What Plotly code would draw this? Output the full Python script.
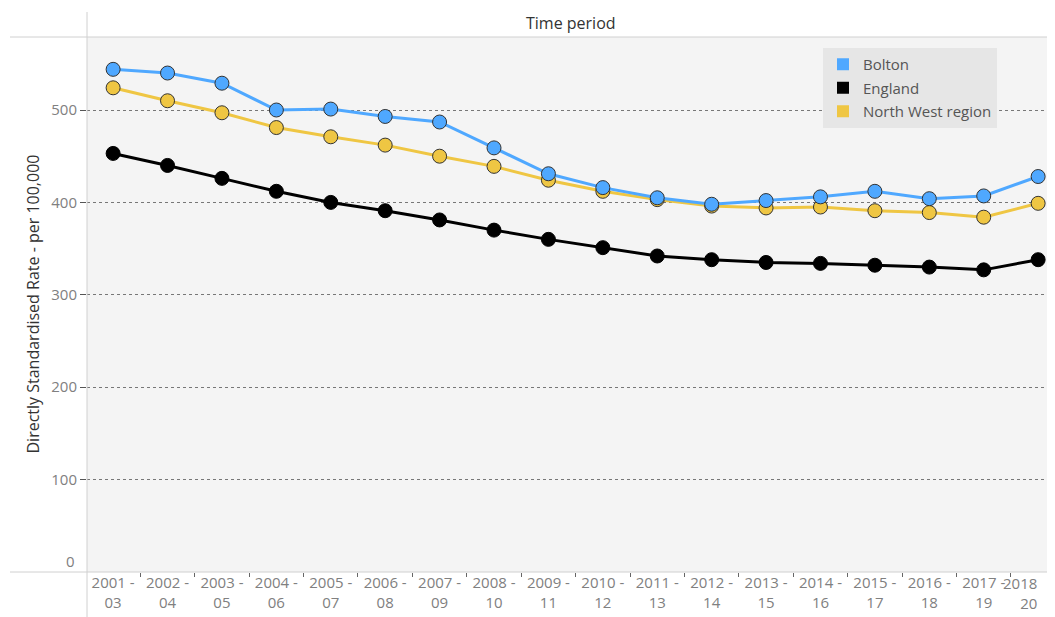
import plotly.graph_objects as go

periods = ["2001-03", "2002-04", "2003-05", "2004-06", "2005-07", "2006-08", "2007-09",
           "2008-10", "2009-11", "2010-12", "2011-13", "2012-14", "2013-15", "2014-16",
           "2015-17", "2016-18", "2017-19", "2018-20"]
tick_labels = ["2001 -<br>03", "2002 -<br>04", "2003 -<br>05", "2004 -<br>06", "2005 -<br>07",
               "2006 -<br>08", "2007 -<br>09", "2008 -<br>10", "2009 -<br>11", "2010 -<br>12",
               "2011 -<br>13", "2012 -<br>14", "2013 -<br>15", "2014 -<br>16", "2015 -<br>17",
               "2016 -<br>18", "2017 -<br>19", "2018<br>20"]

bolton = [544, 540, 529, 500, 501, 493, 487, 459, 431, 416, 405, 398, 402, 406, 412, 404, 407, 428]
england = [453, 440, 426, 412, 400, 391, 381, 370, 360, 351, 342, 338, 335, 334, 332, 330, 327, 338]
north_west = [524, 510, 497, 481, 471, 462, 450, 439, 424, 412, 403, 396, 394, 395, 391, 389, 384, 399]

y_ticks = [100, 200, 300, 400, 500]

series = [
    ("Bolton", bolton, "#4fa8ff", "#333333"),
    ("England", england, "#000000", "#000000"),
    ("North West region", north_west, "#efc643", "#333333"),
]

fig = go.Figure()

# draw order: England, NW, Bolton on top
for name, vals, col, edge in [series[1], series[2], series[0]]:
    fig.add_trace(go.Scatter(
        x=periods, y=vals, mode="lines+markers", name=name, showlegend=False,
        line=dict(color=col, width=3),
        marker=dict(size=14, color=col, line=dict(color=edge, width=1)),
    ))

# legend entries as squares
for name, vals, col, edge in series:
    fig.add_trace(go.Scatter(
        x=[None], y=[None], mode="markers", name=name, legendgroup=name,
        marker=dict(symbol="square", size=17, color=col),
    ))

# page has an 8px body margin, so the figure is shrunk by 8px
W, H = 1047, 609
L, T, B = 79, 29, 45
pw, ph = W - L, H - T - B

grey_line = "#d0d0d0"
fig.add_shape(type="line", xref="paper", yref="paper", x0=-(L - 2) / pw, x1=1, y0=1, y1=1,
              line=dict(color=grey_line, width=1))
fig.add_shape(type="line", xref="paper", yref="paper", x0=-(L - 2) / pw, x1=1, y0=0, y1=0,
              line=dict(color=grey_line, width=1))
fig.add_shape(type="line", xref="paper", yref="paper", x0=0, x1=0, y0=-B / ph, y1=1 + 25 / ph,
              line=dict(color=grey_line, width=1))

fig.add_annotation(xref="paper", yref="paper", x=0.5, y=1.0, yanchor="bottom", yshift=1,
                   text="Time period", showarrow=False,
                   font=dict(size=16, color="#333333"))
fig.add_annotation(xref="paper", yref="paper", x=-(L - 24) / pw, y=0.5, textangle=-90,
                   xanchor="center", yanchor="middle",
                   text="Directly Standardised Rate - per 100,000", showarrow=False,
                   font=dict(size=16, color="#333333"))
fig.add_annotation(xref="paper", yref="y", x=0, y=0, xanchor="right", xshift=-10, yshift=11,
                   text="0", showarrow=False, font=dict(size=15, color="#808080"))
# last period label pulled inwards so it is not clipped at the right edge
fig.add_annotation(xref="x", yref="paper", x=periods[-1], y=0, xanchor="right", align="right",
                   yanchor="top", xshift=1, yshift=1, text=tick_labels[-1],
                   showarrow=False, font=dict(size=15, color="#808080"))

fig.update_layout(
    width=W, height=H,
    margin=dict(l=L, r=0, t=T, b=B, autoexpand=False),
    paper_bgcolor="white",
    plot_bgcolor="#f4f4f4",
    font=dict(family="Open Sans, sans-serif", size=15, color="#808080"),
    legend=dict(x=(823 - 8 - L) / pw, y=1 - (48 - 8 - T) / ph, xanchor="left", yanchor="top",
                bgcolor="#e6e6e6", font=dict(size=15, color="#555555"),
                itemsizing="constant", tracegroupgap=1),
    xaxis=dict(type="category", categoryarray=periods, range=[-0.48, 17.31],
               tickvals=periods, ticktext=tick_labels[:-1] + [""], tickangle=0,
               automargin=False,
               showgrid=False, zeroline=False, showline=False,
               ticks="outside", tickson="boundaries", ticklen=4, tickcolor="#666666",
               tickfont=dict(size=15, color="#808080")),
    yaxis=dict(range=[0, 579], tickvals=y_ticks, showgrid=True, gridcolor="#777777",
               griddash="dot", gridwidth=1, zeroline=False, showline=False, automargin=False,
               ticks="outside", ticklen=6, tickcolor="#555555",
               tickfont=dict(size=15, color="#808080")),
)

fig.write_html("out.html")
